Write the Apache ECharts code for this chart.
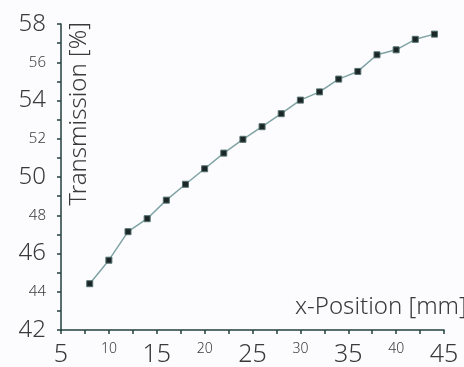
<!DOCTYPE html>
<html>
<head>
    <meta charset="utf-8">
    <title>Transmission vs x-Position</title>
    <script src="https://cdn.jsdelivr.net/npm/echarts@6/dist/echarts.min.js"></script>
    <style>
        html, body { margin: 0; padding: 0; background: #fcfcfe; }
        #chart { width: 464px; height: 367px; }
    </style>
</head>
<body>
<div id="chart"></div>
<script>
    // x-Position [mm]
    var xPos = [8, 10, 12, 14, 16, 18, 20, 22, 24, 26, 28, 30, 32, 34, 36, 38, 40, 42, 44];
    // Transmission [%]
    var transmission = [44.42, 45.65, 47.14, 47.82, 48.79, 49.62, 50.43, 51.25, 51.97, 52.63,
        53.31, 54.02, 54.45, 55.12, 55.52, 56.39, 56.65, 57.20, 57.47];

    var bigX = [5, 15, 25, 35, 45];
    var bigY = [42, 46, 50, 54, 58];

    var points = xPos.map(function (x, i) { return [x, transmission[i]]; });

    var axisColor = '#23403f';
    var textColor = '#3a3a3a';
    var font = 'Noto Sans';

    var chart = echarts.init(document.getElementById('chart'));
    chart.setOption({
        backgroundColor: '#fcfcfe',
        animation: false,
        grid: { left: 61, right: 20, top: 24, bottom: 37 },
        xAxis: {
            type: 'value',
            min: 5,
            max: 45,
            interval: 5,
            axisLine: { show: true, lineStyle: { color: axisColor, width: 1.5 } },
            axisTick: { show: true, length: 4, lineStyle: { color: axisColor, width: 1.5 } },
            minorTick: { show: true, splitNumber: 2, length: 4, lineStyle: { color: axisColor, width: 1.5 } },
            splitLine: { show: false },
            axisLabel: {
                margin: 12,
                formatter: function (v) {
                    return bigX.indexOf(v) >= 0 ? '{b|' + v + '}' : '{s|' + v + '}';
                },
                rich: {
                    b: { fontSize: 25, lineHeight: 25, color: textColor, fontFamily: font, fontWeight: 300 },
                    s: { fontSize: 14, lineHeight: 25, color: textColor, fontFamily: font, fontWeight: 300, verticalAlign: 'top' }
                }
            }
        },
        yAxis: {
            type: 'value',
            min: 42,
            max: 58,
            interval: 2,
            axisLine: { show: true, lineStyle: { color: axisColor, width: 1.5 } },
            axisTick: { show: true, length: 4, lineStyle: { color: axisColor, width: 1.5 } },
            minorTick: { show: true, splitNumber: 2, length: 4, lineStyle: { color: axisColor, width: 1.5 } },
            splitLine: { show: false },
            axisLabel: {
                margin: 15,
                formatter: function (v) {
                    return bigY.indexOf(v) >= 0 ? '{b|' + v + '}' : '{s|' + v + '}';
                },
                rich: {
                    b: { fontSize: 24, color: textColor, fontFamily: font, fontWeight: 300 },
                    s: { fontSize: 15, color: textColor, fontFamily: font, fontWeight: 300 }
                }
            }
        },
        graphic: [
            {
                type: 'text',
                x: 79,
                y: 114,
                rotation: Math.PI / 2,
                style: {
                    text: 'Transmission [%]',
                    fontSize: 24,
                    fontFamily: font,
                    fontWeight: 300,
                    fill: textColor,
                    align: 'center',
                    verticalAlign: 'middle'
                }
            },
            {
                type: 'text',
                x: 295,
                y: 307,
                style: {
                    text: 'x-Position [mm]',
                    fontSize: 24,
                    fontFamily: font,
                    fontWeight: 300,
                    fill: textColor,
                    align: 'left',
                    verticalAlign: 'middle'
                }
            }
        ],
        series: [{
            type: 'line',
            data: points,
            symbol: 'rect',
            symbolSize: 6,
            lineStyle: { color: '#7fa3a4', width: 1.5 },
            itemStyle: { color: '#1b2627', borderColor: '#55706f', borderWidth: 1 }
        }]
    });
</script>
</body>
</html>
